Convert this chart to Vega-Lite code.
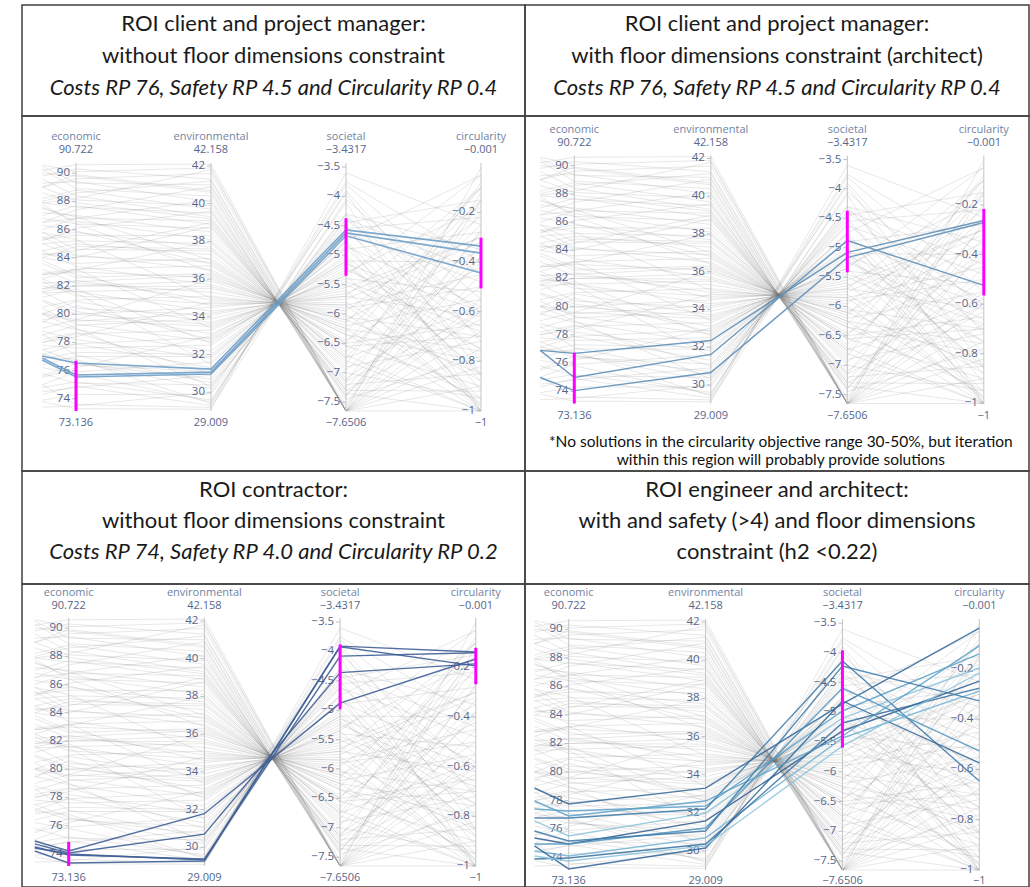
{
  "$schema": "https://vega.github.io/schema/vega-lite/v6.json",
  "padding": {"left": 21, "top": 4, "right": 0, "bottom": 0},
  "background": "white",
  "bounds": "flush",
  "spacing": 0,
  "columns": 2,
  "resolve": {"scale": {"x": "independent", "y": "independent", "color": "independent"}},
  "config": {
    "view": {"stroke": "#404040", "strokeWidth": 1.5},
    "concat": {"spacing": 0}
  },
  "datasets": {
    "dims": [
      {"dim": "left", "pos": 0.75, "min": 73.136, "max": 90.722},
      {"dim": "economic", "pos": 1, "min": 73.136, "max": 90.722},
      {"dim": "environmental", "pos": 2, "min": 29.009, "max": 42.158},
      {"dim": "societal", "pos": 3, "min": -7.6506, "max": -3.4317},
      {"dim": "circularity", "pos": 4, "min": -1, "max": -0.001}
    ],
    "ticks": [
      {"dim": "economic", "value": 74}, {"dim": "economic", "value": 76}, {"dim": "economic", "value": 78},
      {"dim": "economic", "value": 80}, {"dim": "economic", "value": 82}, {"dim": "economic", "value": 84},
      {"dim": "economic", "value": 86}, {"dim": "economic", "value": 88}, {"dim": "economic", "value": 90},
      {"dim": "environmental", "value": 30}, {"dim": "environmental", "value": 32}, {"dim": "environmental", "value": 34},
      {"dim": "environmental", "value": 36}, {"dim": "environmental", "value": 38}, {"dim": "environmental", "value": 40},
      {"dim": "environmental", "value": 42},
      {"dim": "societal", "value": -3.5}, {"dim": "societal", "value": -4}, {"dim": "societal", "value": -4.5},
      {"dim": "societal", "value": -5}, {"dim": "societal", "value": -5.5}, {"dim": "societal", "value": -6},
      {"dim": "societal", "value": -6.5}, {"dim": "societal", "value": -7}, {"dim": "societal", "value": -7.5},
      {"dim": "circularity", "value": -0.2}, {"dim": "circularity", "value": -0.4}, {"dim": "circularity", "value": -0.6},
      {"dim": "circularity", "value": -0.8}, {"dim": "circularity", "value": -1}
    ],
    "headers": [
      {"panel": "p1", "line": 1, "text": "ROI client and project manager:"},
      {"panel": "p1", "line": 2, "text": "without floor dimensions constraint"},
      {"panel": "p1", "line": 3, "text": "Costs RP 76, Safety RP 4.5 and Circularity RP 0.4"},
      {"panel": "p2", "line": 1, "text": "ROI client and project manager:"},
      {"panel": "p2", "line": 2, "text": "with floor dimensions constraint (architect)"},
      {"panel": "p2", "line": 3, "text": "Costs RP 76, Safety RP 4.5 and Circularity RP 0.4"},
      {"panel": "p3", "line": 1, "text": "ROI contractor:"},
      {"panel": "p3", "line": 2, "text": "without floor dimensions constraint"},
      {"panel": "p3", "line": 3, "text": "Costs RP 74, Safety RP 4.0 and Circularity RP 0.2"},
      {"panel": "p4", "line": 1, "text": "ROI engineer and architect:"},
      {"panel": "p4", "line": 2, "text": "with and safety (>4) and floor dimensions"},
      {"panel": "p4", "line": 3, "text": "constraint (h2 <0.22)"}
    ],
    "brush": [
      {"panel": "p1", "dim": "economic", "lo": 73.136, "hi": 76.7},
      {"panel": "p1", "dim": "societal", "lo": -5.35, "hi": -4.37},
      {"panel": "p1", "dim": "circularity", "lo": -0.506, "hi": -0.302},
      {"panel": "p2", "dim": "economic", "lo": 73.136, "hi": 76.74},
      {"panel": "p2", "dim": "societal", "lo": -5.42, "hi": -4.37},
      {"panel": "p2", "dim": "circularity", "lo": -0.565, "hi": -0.216},
      {"panel": "p3", "dim": "economic", "lo": 73.136, "hi": 74.84},
      {"panel": "p3", "dim": "societal", "lo": -4.985, "hi": -3.88},
      {"panel": "p3", "dim": "circularity", "lo": -0.268, "hi": -0.121},
      {"panel": "p4", "dim": "societal", "lo": -5.595, "hi": -3.958}
    ],
    "sel": [
      {"panel": "p1", "id": "p1a", "left": 77.04, "economic": 76.54, "environmental": 31.23, "societal": -4.57, "circularity": -0.336},
      {"panel": "p1", "id": "p1b", "left": 76.9, "economic": 75.69, "environmental": 31.07, "societal": -4.62, "circularity": -0.364},
      {"panel": "p1", "id": "p1c", "left": 76.75, "economic": 75.55, "environmental": 30.97, "societal": -4.67, "circularity": -0.444},
      {"panel": "p2", "id": "p2a", "left": 76.9, "economic": 76.69, "environmental": 32.35, "societal": -5.08, "circularity": -0.263},
      {"panel": "p2", "id": "p2b", "left": 76.9, "economic": 74.98, "environmental": 31.61, "societal": -4.88, "circularity": -0.524},
      {"panel": "p2", "id": "p2c", "left": 74.98, "economic": 74.05, "environmental": 30.65, "societal": -5.17, "circularity": -0.271},
      {"panel": "p3", "id": "p3a", "left": 74.91, "economic": 74.2, "environmental": 31.78, "societal": -4.88, "circularity": -0.166},
      {"panel": "p3", "id": "p3b", "left": 74.7, "economic": 74.06, "environmental": 30.7, "societal": -4.36, "circularity": -0.186},
      {"panel": "p3", "id": "p3c", "left": 74.48, "economic": 73.92, "environmental": 29.38, "societal": -4.08, "circularity": -0.141},
      {"panel": "p3", "id": "p3d", "left": 74.2, "economic": 73.35, "environmental": 29.27, "societal": -3.92, "circularity": -0.194},
      {"panel": "p3", "id": "p3e", "left": 74.41, "economic": 73.99, "environmental": 29.33, "societal": -3.91, "circularity": -0.138},
      {"panel": "p4", "id": "p4a", "left": 78.88, "economic": 77.76, "environmental": 33.3, "societal": -4.86, "circularity": -0.037},
      {"panel": "p4", "id": "p4b", "left": 77.41, "economic": 77.27, "environmental": 32.36, "societal": -4.978, "circularity": -0.14},
      {"panel": "p4", "id": "p4c", "left": 76.78, "economic": 76.78, "environmental": 32.2, "societal": -4.137, "circularity": -0.646},
      {"panel": "p4", "id": "p4d", "left": 76.57, "economic": 75.52, "environmental": 31.99, "societal": -5.096, "circularity": -0.196},
      {"panel": "p4", "id": "p4e", "left": 75.38, "economic": 74.96, "environmental": 31.58, "societal": -5.314, "circularity": -0.248},
      {"panel": "p4", "id": "p4f", "left": 74.96, "economic": 74.96, "environmental": 31.21, "societal": -4.592, "circularity": -0.526},
      {"panel": "p4", "id": "p4g", "left": 74.47, "economic": 74.12, "environmental": 30.69, "societal": -5.432, "circularity": -0.288},
      {"panel": "p4", "id": "p4h", "left": 73.91, "economic": 73.98, "environmental": 30.37, "societal": -5.18, "circularity": -0.276},
      {"panel": "p4", "id": "p4i", "left": 74.82, "economic": 73.21, "environmental": 30.16, "societal": -4.81, "circularity": -0.574},
      {"panel": "p4", "id": "p4j", "left": 77.97, "economic": 76.92, "environmental": 32.62, "societal": -5.398, "circularity": -0.108},
      {"panel": "p4", "id": "p4k", "left": 75.87, "economic": 75.17, "environmental": 31.05, "societal": -4.222, "circularity": -0.327},
      {"panel": "p4", "id": "p4l", "left": 74.12, "economic": 73.77, "environmental": 30.27, "societal": -5.566, "circularity": -0.216}
    ],
    "bg": [
      {"id": 1, "left": 75.0, "economic": 73.6, "environmental": 29.2, "societal": -4.05, "circularity": -0.62},
      {"id": 2, "left": 74.8, "economic": 75.2, "environmental": 29.6, "societal": -4.1, "circularity": -1.0},
      {"id": 3, "left": 73.9, "economic": 74.3, "environmental": 29.9, "societal": -4.3, "circularity": -0.35},
      {"id": 4, "left": 77.5, "economic": 76.6, "environmental": 30.2, "societal": -4.3, "circularity": -0.8},
      {"id": 5, "left": 75.8, "economic": 75.1, "environmental": 30.4, "societal": -4.45, "circularity": -0.15},
      {"id": 6, "left": 75.6, "economic": 76.5, "environmental": 30.7, "societal": -4.5, "circularity": -0.92},
      {"id": 7, "left": 74.5, "economic": 74.8, "environmental": 30.9, "societal": -4.62, "circularity": -0.48},
      {"id": 8, "left": 77.2, "economic": 76.4, "environmental": 31.1, "societal": -4.6, "circularity": -0.7},
      {"id": 9, "left": 77.5, "economic": 77.9, "environmental": 31.3, "societal": -4.75, "circularity": -0.05},
      {"id": 10, "left": 75.0, "economic": 75.9, "environmental": 31.6, "societal": -4.78, "circularity": -1.0},
      {"id": 11, "left": 78.8, "economic": 78.2, "environmental": 31.8, "societal": -4.85, "circularity": -0.58},
      {"id": 12, "left": 76.8, "economic": 77.3, "environmental": 32.0, "societal": -4.9, "circularity": -0.28},
      {"id": 13, "left": 79.5, "economic": 78.9, "environmental": 32.2, "societal": -5.0, "circularity": -0.85},
      {"id": 14, "left": 77.8, "economic": 77.6, "environmental": 32.5, "societal": -5.1, "circularity": -0.4},
      {"id": 15, "left": 80.4, "economic": 79.3, "environmental": 32.7, "societal": -5.1, "circularity": -1.0},
      {"id": 16, "left": 77.1, "economic": 77.9, "environmental": 32.9, "societal": -5.25, "circularity": -0.66},
      {"id": 17, "left": 81.0, "economic": 80.2, "environmental": 33.1, "societal": -5.3, "circularity": -0.18},
      {"id": 18, "left": 78.0, "economic": 78.6, "environmental": 33.3, "societal": -5.35, "circularity": -0.95},
      {"id": 19, "left": 80.1, "economic": 79.6, "environmental": 33.5, "societal": -5.4, "circularity": -0.52},
      {"id": 20, "left": 80.0, "economic": 80.9, "environmental": 33.7, "societal": -5.5, "circularity": -0.75},
      {"id": 21, "left": 78.5, "economic": 79.2, "environmental": 33.9, "societal": -5.55, "circularity": -0.3},
      {"id": 22, "left": 81.6, "economic": 80.4, "environmental": 34.1, "societal": -5.6, "circularity": -1.0},
      {"id": 23, "left": 81.5, "economic": 81.6, "environmental": 34.3, "societal": -5.7, "circularity": -0.1},
      {"id": 24, "left": 79.6, "economic": 80.0, "environmental": 34.5, "societal": -5.7, "circularity": -0.62},
      {"id": 25, "left": 82.3, "economic": 81.3, "environmental": 34.7, "societal": -5.8, "circularity": -0.88},
      {"id": 26, "left": 81.8, "economic": 82.4, "environmental": 34.9, "societal": -5.85, "circularity": -0.45},
      {"id": 27, "left": 80.5, "economic": 81.0, "environmental": 35.1, "societal": -5.95, "circularity": -0.22},
      {"id": 28, "left": 83.2, "economic": 82.2, "environmental": 35.3, "societal": -6.0, "circularity": -0.97},
      {"id": 29, "left": 82.0, "economic": 81.6, "environmental": 35.5, "societal": -6.05, "circularity": -0.7},
      {"id": 30, "left": 84.5, "economic": 83.4, "environmental": 35.7, "societal": -6.1, "circularity": -0.35},
      {"id": 31, "left": 81.6, "economic": 82.0, "environmental": 35.9, "societal": -6.2, "circularity": -0.55},
      {"id": 32, "left": 82.8, "economic": 83.0, "environmental": 36.1, "societal": -6.25, "circularity": -1.0},
      {"id": 33, "left": 83.6, "economic": 82.6, "environmental": 36.3, "societal": -6.3, "circularity": -0.15},
      {"id": 34, "left": 85.5, "economic": 84.2, "environmental": 36.5, "societal": -6.35, "circularity": -0.8},
      {"id": 35, "left": 82.5, "economic": 83.2, "environmental": 36.7, "societal": -6.45, "circularity": -0.42},
      {"id": 36, "left": 85.0, "economic": 84.1, "environmental": 36.9, "societal": -6.5, "circularity": -0.65},
      {"id": 37, "left": 84.0, "economic": 83.6, "environmental": 37.1, "societal": -6.55, "circularity": -0.9},
      {"id": 38, "left": 84.5, "economic": 85.0, "environmental": 37.3, "societal": -6.65, "circularity": -0.25},
      {"id": 39, "left": 85.8, "economic": 84.6, "environmental": 37.5, "societal": -6.7, "circularity": -1.0},
      {"id": 40, "left": 85.4, "economic": 85.8, "environmental": 37.7, "societal": -6.75, "circularity": -0.58},
      {"id": 41, "left": 85.0, "economic": 85.2, "environmental": 37.9, "societal": -6.85, "circularity": -0.08},
      {"id": 42, "left": 87.6, "economic": 86.6, "environmental": 38.1, "societal": -6.9, "circularity": -0.72},
      {"id": 43, "left": 85.3, "economic": 85.6, "environmental": 38.3, "societal": -6.95, "circularity": -0.38},
      {"id": 44, "left": 87.2, "economic": 87.0, "environmental": 38.5, "societal": -7.0, "circularity": -0.95},
      {"id": 45, "left": 87.8, "economic": 86.4, "environmental": 38.7, "societal": -7.1, "circularity": -0.5},
      {"id": 46, "left": 87.0, "economic": 87.7, "environmental": 38.9, "societal": -7.15, "circularity": -0.2},
      {"id": 47, "left": 86.0, "economic": 86.8, "environmental": 39.1, "societal": -7.2, "circularity": -0.85},
      {"id": 48, "left": 89.6, "economic": 88.4, "environmental": 39.3, "societal": -7.3, "circularity": -0.63},
      {"id": 49, "left": 87.9, "economic": 87.6, "environmental": 39.5, "societal": -7.35, "circularity": -1.0},
      {"id": 50, "left": 88.2, "economic": 88.8, "environmental": 39.7, "societal": -7.4, "circularity": -0.33},
      {"id": 51, "left": 89.0, "economic": 88.1, "environmental": 39.9, "societal": -7.45, "circularity": -0.78},
      {"id": 52, "left": 89.3, "economic": 89.4, "environmental": 40.1, "societal": -7.55, "circularity": -0.12},
      {"id": 53, "left": 90.3, "economic": 88.9, "environmental": 40.4, "societal": -7.6506, "circularity": -0.55},
      {"id": 54, "left": 89.0, "economic": 89.9, "environmental": 40.7, "societal": -7.6506, "circularity": -0.9},
      {"id": 55, "left": 90.5, "economic": 89.3, "environmental": 41.0, "societal": -7.6506, "circularity": -0.27},
      {"id": 56, "left": 89.8, "economic": 90.3, "environmental": 41.3, "societal": -7.6506, "circularity": -0.68},
      {"id": 57, "left": 89.0, "economic": 89.6, "environmental": 41.6, "societal": -7.6506, "circularity": -0.45},
      {"id": 58, "left": 90.6, "economic": 90.1, "environmental": 41.9, "societal": -7.6506, "circularity": -0.02},
      {"id": 59, "left": 90.2, "economic": 90.6, "environmental": 42.1, "societal": -7.6506, "circularity": -0.82},
      {"id": 60, "left": 86.5, "economic": 87.4, "environmental": 40.9, "societal": -7.6506, "circularity": -1.0},
      {"id": 61, "left": 80.0, "economic": 79.0, "environmental": 30.3, "societal": -4.4, "circularity": -0.6},
      {"id": 62, "left": 75.5, "economic": 76.2, "environmental": 33.0, "societal": -5.2, "circularity": -0.75},
      {"id": 63, "left": 79.0, "economic": 79.6, "environmental": 36.0, "societal": -6.15, "circularity": -0.1},
      {"id": 64, "left": 82.8, "economic": 83.1, "environmental": 38.0, "societal": -6.8, "circularity": -1.0},
      {"id": 65, "left": 82.5, "economic": 81.5, "environmental": 31.5, "societal": -4.75, "circularity": -0.88},
      {"id": 66, "left": 85.8, "economic": 85.3, "environmental": 35.0, "societal": -5.9, "circularity": -0.5},
      {"id": 67, "left": 77.0, "economic": 76.8, "environmental": 29.4, "societal": -3.75, "circularity": -0.4},
      {"id": 68, "left": 73.8, "economic": 73.3, "environmental": 29.1, "societal": -3.6, "circularity": -0.25},
      {"id": 69, "left": 84.2, "economic": 84.5, "environmental": 39.0, "societal": -7.25, "circularity": -0.4},
      {"id": 70, "left": 87.5, "economic": 86.9, "environmental": 37.0, "societal": -6.55, "circularity": -0.7},
      {"id": 71, "left": 81.2, "economic": 81.8, "environmental": 32.6, "societal": -5.05, "circularity": -0.98},
      {"id": 72, "left": 80.0, "economic": 79.5, "environmental": 34.2, "societal": -5.65, "circularity": -0.3},
      {"id": 73, "left": 86.5, "economic": 86.8, "environmental": 40.2, "societal": -7.6, "circularity": -0.15},
      {"id": 74, "left": 73.4, "economic": 73.5, "environmental": 30.0, "societal": -3.95, "circularity": -0.85},
      {"id": 75, "left": 86.8, "economic": 86.4, "environmental": 36.4, "societal": -6.35, "circularity": -0.95},
      {"id": 76, "left": 82.9, "economic": 83.2, "environmental": 33.4, "societal": -5.35, "circularity": -0.05},
      {"id": 77, "left": 84.3, "economic": 84.0, "environmental": 38.8, "societal": -7.15, "circularity": -0.6},
      {"id": 78, "left": 78.2, "economic": 78.7, "environmental": 31.0, "societal": -4.55, "circularity": -0.22},
      {"id": 79, "left": 88.0, "economic": 88.6, "environmental": 41.2, "societal": -7.6506, "circularity": -0.75},
      {"id": 80, "left": 81.8, "economic": 82.0, "environmental": 35.6, "societal": -6.1, "circularity": -0.85},
      {"id": 81, "left": 76.2, "economic": 75.8, "environmental": 29.5, "societal": -3.9, "circularity": -0.72},
      {"id": 82, "left": 78.6, "economic": 77.1, "environmental": 30.5, "societal": -4.38, "circularity": -0.44},
      {"id": 83, "left": 79.4, "economic": 80.6, "environmental": 32.8, "societal": -5.15, "circularity": -0.6},
      {"id": 84, "left": 83.8, "economic": 82.8, "environmental": 34.6, "societal": -5.75, "circularity": -0.32},
      {"id": 85, "left": 86.3, "economic": 85.9, "environmental": 36.8, "societal": -6.5, "circularity": -0.1},
      {"id": 86, "left": 88.6, "economic": 87.9, "environmental": 39.2, "societal": -7.3, "circularity": -0.92},
      {"id": 87, "left": 90.0, "economic": 89.8, "environmental": 40.6, "societal": -7.6506, "circularity": -0.38},
      {"id": 88, "left": 74.3, "economic": 74.9, "environmental": 29.3, "societal": -3.8, "circularity": -0.55},
      {"id": 89, "left": 80.9, "economic": 80.0, "environmental": 33.6, "societal": -5.45, "circularity": -0.68},
      {"id": 90, "left": 84.0, "economic": 84.8, "environmental": 37.6, "societal": -6.75, "circularity": -0.16},
      {"id": 91, "left": 76.4, "economic": 77.0, "environmental": 31.9, "societal": -4.88, "circularity": -0.86},
      {"id": 92, "left": 82.2, "economic": 82.3, "environmental": 36.2, "societal": -6.25, "circularity": -0.76},
      {"id": 93, "left": 87.9, "economic": 88.2, "environmental": 41.8, "societal": -7.6506, "circularity": -0.6},
      {"id": 94, "left": 78.0, "economic": 78.4, "environmental": 34.8, "societal": -5.85, "circularity": -0.98},
      {"id": 95, "left": 85.2, "economic": 86.1, "environmental": 39.6, "societal": -7.4, "circularity": -0.28}
    ]
  },
  "concat": [
    {
      "width": 503, "height": 111,
      "data": {"name": "headers"},
      "transform": [{"filter": "datum.panel === 'p1'"}],
      "encoding": {
        "x": {"datum": 0.5, "type": "quantitative", "scale": {"domain": [0, 1]}, "axis": null},
        "y": {"field": "line", "type": "quantitative", "scale": {"domain": [0.397, 3.866], "reverse": true, "nice": false, "zero": false}, "axis": null},
        "text": {"field": "text", "type": "nominal"}
      },
      "layer": [
        {"transform": [{"filter": "datum.line < 3"}], "mark": {"type": "text", "font": "Lato", "fontSize": 22, "baseline": "middle", "fill": "#1a1a1a"}},
        {"transform": [{"filter": "datum.line === 3"}], "mark": {"type": "text", "font": "Lato", "fontSize": 22, "fontStyle": "italic", "baseline": "middle", "fill": "#1a1a1a"}}
      ]
    },
    {
      "width": 504, "height": 111,
      "data": {"name": "headers"},
      "transform": [{"filter": "datum.panel === 'p2'"}],
      "encoding": {
        "x": {"datum": 0.5, "type": "quantitative", "scale": {"domain": [0, 1]}, "axis": null},
        "y": {"field": "line", "type": "quantitative", "scale": {"domain": [0.397, 3.866], "reverse": true, "nice": false, "zero": false}, "axis": null},
        "text": {"field": "text", "type": "nominal"}
      },
      "layer": [
        {"transform": [{"filter": "datum.line < 3"}], "mark": {"type": "text", "font": "Lato", "fontSize": 22, "baseline": "middle", "fill": "#1a1a1a"}},
        {"transform": [{"filter": "datum.line === 3"}], "mark": {"type": "text", "font": "Lato", "fontSize": 22, "fontStyle": "italic", "baseline": "middle", "fill": "#1a1a1a"}}
      ]
    },
    {
      "width": 503, "height": 355,
      "encoding": {
        "x": {"field": "pos", "type": "quantitative", "scale": {"domain": [0.6, 4.326], "nice": false, "zero": false}, "axis": null}
      },
      "layer": [
        {"data": {"name": "bg"}, "transform": [{"fold": ["left", "economic", "environmental", "societal", "circularity"], "as": ["dim", "value"]}, {"lookup": "dim", "from": {"data": {"name": "dims"}, "key": "dim", "fields": ["pos", "min", "max"]}}, {"calculate": "(datum.value - datum.min) / (datum.max - datum.min)", "as": "n"}],
         "mark": {"type": "line", "stroke": "#777777", "strokeWidth": 0.8, "opacity": 0.22},
         "encoding": {"y": {"field": "n", "type": "quantitative", "scale": {"domain": [-0.242, 1.1895], "nice": false, "zero": false}, "axis": null}, "detail": {"field": "id", "type": "nominal"}, "order": {"field": "pos", "type": "quantitative"}}},
        {"data": {"name": "dims"}, "transform": [{"filter": "datum.dim !== 'left'"}], "mark": {"type": "rule", "stroke": "#c4c4c4", "strokeWidth": 1},
         "encoding": {"y": {"datum": 0, "type": "quantitative", "scale": {"domain": [-0.242, 1.1895], "nice": false, "zero": false}, "axis": null}, "y2": {"datum": 1}}},
        {"data": {"name": "ticks"}, "transform": [{"lookup": "dim", "from": {"data": {"name": "dims"}, "key": "dim", "fields": ["pos", "min", "max"]}}, {"calculate": "(datum.value - datum.min) / (datum.max - datum.min)", "as": "n"}],
         "mark": {"type": "rule", "stroke": "#b8c0d0", "strokeWidth": 1, "x2Offset": -4},
         "encoding": {"y": {"field": "n", "type": "quantitative", "scale": {"domain": [-0.242, 1.1895], "nice": false, "zero": false}, "axis": null}, "x2": {"field": "pos"}}},
        {"data": {"name": "ticks"}, "transform": [{"lookup": "dim", "from": {"data": {"name": "dims"}, "key": "dim", "fields": ["pos", "min", "max"]}}, {"calculate": "(datum.value - datum.min) / (datum.max - datum.min)", "as": "n"}],
         "mark": {"type": "text", "align": "right", "baseline": "middle", "dx": -6, "font": "Open Sans", "fontSize": 11.5, "fill": "#56668a"},
         "encoding": {"y": {"field": "n", "type": "quantitative", "scale": {"domain": [-0.242, 1.1895], "nice": false, "zero": false}, "axis": null}, "text": {"field": "value", "type": "quantitative", "format": "~g"}}},
        {"data": {"name": "sel"}, "transform": [{"filter": "datum.panel === 'p1'"}, {"fold": ["left", "economic", "environmental", "societal", "circularity"], "as": ["dim", "value"]}, {"lookup": "dim", "from": {"data": {"name": "dims"}, "key": "dim", "fields": ["pos", "min", "max"]}}, {"calculate": "(datum.value - datum.min) / (datum.max - datum.min)", "as": "n"}],
         "mark": {"type": "line", "stroke": "#6f9fc8", "strokeWidth": 1.6, "opacity": 0.9},
         "encoding": {"y": {"field": "n", "type": "quantitative", "scale": {"domain": [-0.242, 1.1895], "nice": false, "zero": false}, "axis": null}, "detail": {"field": "id", "type": "nominal"}, "order": {"field": "pos", "type": "quantitative"}}},
        {"data": {"name": "brush"}, "transform": [{"filter": "datum.panel === 'p1'"}, {"lookup": "dim", "from": {"data": {"name": "dims"}, "key": "dim", "fields": ["pos", "min", "max"]}}, {"calculate": "(datum.lo - datum.min) / (datum.max - datum.min)", "as": "n"}, {"calculate": "(datum.hi - datum.min) / (datum.max - datum.min)", "as": "n2"}],
         "mark": {"type": "rule", "stroke": "#ff00ff", "strokeWidth": 3},
         "encoding": {"y": {"field": "n", "type": "quantitative", "scale": {"domain": [-0.242, 1.1895], "nice": false, "zero": false}, "axis": null}, "y2": {"field": "n2"}}},
        {"data": {"name": "dims"}, "transform": [{"filter": "datum.dim !== 'left'"}],
         "mark": {"type": "text", "baseline": "middle", "dy": -25.5, "font": "Open Sans", "fontSize": 11, "fill": "#7383a3"},
         "encoding": {"y": {"datum": 1, "type": "quantitative", "scale": {"domain": [-0.242, 1.1895], "nice": false, "zero": false}, "axis": null}, "text": {"field": "dim", "type": "nominal"}}},
        {"data": {"name": "dims"}, "transform": [{"filter": "datum.dim !== 'left'"}],
         "mark": {"type": "text", "baseline": "middle", "dy": -12.5, "font": "Open Sans", "fontSize": 11, "fill": "#56668a"},
         "encoding": {"y": {"datum": 1, "type": "quantitative", "scale": {"domain": [-0.242, 1.1895], "nice": false, "zero": false}, "axis": null}, "text": {"field": "max", "type": "quantitative", "format": "~g"}}},
        {"data": {"name": "dims"}, "transform": [{"filter": "datum.dim !== 'left'"}],
         "mark": {"type": "text", "baseline": "middle", "dy": 12.5, "font": "Open Sans", "fontSize": 11, "fill": "#56668a"},
         "encoding": {"y": {"datum": 0, "type": "quantitative", "scale": {"domain": [-0.242, 1.1895], "nice": false, "zero": false}, "axis": null}, "text": {"field": "min", "type": "quantitative", "format": "~g"}}}
      ]
    },
    {
      "width": 504, "height": 355,
      "encoding": {
        "x": {"field": "pos", "type": "quantitative", "scale": {"domain": [0.6388, 4.3311], "nice": false, "zero": false}, "axis": null}
      },
      "layer": [
        {"data": {"name": "bg"}, "transform": [{"fold": ["left", "economic", "environmental", "societal", "circularity"], "as": ["dim", "value"]}, {"lookup": "dim", "from": {"data": {"name": "dims"}, "key": "dim", "fields": ["pos", "min", "max"]}}, {"calculate": "(datum.value - datum.min) / (datum.max - datum.min)", "as": "n"}],
         "mark": {"type": "line", "stroke": "#777777", "strokeWidth": 0.8, "opacity": 0.22},
         "encoding": {"y": {"field": "n", "type": "quantitative", "scale": {"domain": [-0.2722, 1.1593], "nice": false, "zero": false}, "axis": null}, "detail": {"field": "id", "type": "nominal"}, "order": {"field": "pos", "type": "quantitative"}}},
        {"data": {"name": "dims"}, "transform": [{"filter": "datum.dim !== 'left'"}], "mark": {"type": "rule", "stroke": "#c4c4c4", "strokeWidth": 1},
         "encoding": {"y": {"datum": 0, "type": "quantitative", "scale": {"domain": [-0.2722, 1.1593], "nice": false, "zero": false}, "axis": null}, "y2": {"datum": 1}}},
        {"data": {"name": "ticks"}, "transform": [{"lookup": "dim", "from": {"data": {"name": "dims"}, "key": "dim", "fields": ["pos", "min", "max"]}}, {"calculate": "(datum.value - datum.min) / (datum.max - datum.min)", "as": "n"}],
         "mark": {"type": "rule", "stroke": "#b8c0d0", "strokeWidth": 1, "x2Offset": -4},
         "encoding": {"y": {"field": "n", "type": "quantitative", "scale": {"domain": [-0.2722, 1.1593], "nice": false, "zero": false}, "axis": null}, "x2": {"field": "pos"}}},
        {"data": {"name": "ticks"}, "transform": [{"lookup": "dim", "from": {"data": {"name": "dims"}, "key": "dim", "fields": ["pos", "min", "max"]}}, {"calculate": "(datum.value - datum.min) / (datum.max - datum.min)", "as": "n"}],
         "mark": {"type": "text", "align": "right", "baseline": "middle", "dx": -6, "font": "Open Sans", "fontSize": 11.5, "fill": "#56668a"},
         "encoding": {"y": {"field": "n", "type": "quantitative", "scale": {"domain": [-0.2722, 1.1593], "nice": false, "zero": false}, "axis": null}, "text": {"field": "value", "type": "quantitative", "format": "~g"}}},
        {"data": {"name": "sel"}, "transform": [{"filter": "datum.panel === 'p2'"}, {"fold": ["left", "economic", "environmental", "societal", "circularity"], "as": ["dim", "value"]}, {"lookup": "dim", "from": {"data": {"name": "dims"}, "key": "dim", "fields": ["pos", "min", "max"]}}, {"calculate": "(datum.value - datum.min) / (datum.max - datum.min)", "as": "n"}],
         "mark": {"type": "line", "stroke": "#5e8fb8", "strokeWidth": 1.4, "opacity": 0.9},
         "encoding": {"y": {"field": "n", "type": "quantitative", "scale": {"domain": [-0.2722, 1.1593], "nice": false, "zero": false}, "axis": null}, "detail": {"field": "id", "type": "nominal"}, "order": {"field": "pos", "type": "quantitative"}}},
        {"data": {"name": "brush"}, "transform": [{"filter": "datum.panel === 'p2'"}, {"lookup": "dim", "from": {"data": {"name": "dims"}, "key": "dim", "fields": ["pos", "min", "max"]}}, {"calculate": "(datum.lo - datum.min) / (datum.max - datum.min)", "as": "n"}, {"calculate": "(datum.hi - datum.min) / (datum.max - datum.min)", "as": "n2"}],
         "mark": {"type": "rule", "stroke": "#ff00ff", "strokeWidth": 3},
         "encoding": {"y": {"field": "n", "type": "quantitative", "scale": {"domain": [-0.2722, 1.1593], "nice": false, "zero": false}, "axis": null}, "y2": {"field": "n2"}}},
        {"data": {"name": "dims"}, "transform": [{"filter": "datum.dim !== 'left'"}],
         "mark": {"type": "text", "baseline": "middle", "dy": -25.5, "font": "Open Sans", "fontSize": 11, "fill": "#7383a3"},
         "encoding": {"y": {"datum": 1, "type": "quantitative", "scale": {"domain": [-0.2722, 1.1593], "nice": false, "zero": false}, "axis": null}, "text": {"field": "dim", "type": "nominal"}}},
        {"data": {"name": "dims"}, "transform": [{"filter": "datum.dim !== 'left'"}],
         "mark": {"type": "text", "baseline": "middle", "dy": -12.5, "font": "Open Sans", "fontSize": 11, "fill": "#56668a"},
         "encoding": {"y": {"datum": 1, "type": "quantitative", "scale": {"domain": [-0.2722, 1.1593], "nice": false, "zero": false}, "axis": null}, "text": {"field": "max", "type": "quantitative", "format": "~g"}}},
        {"data": {"name": "dims"}, "transform": [{"filter": "datum.dim !== 'left'"}],
         "mark": {"type": "text", "baseline": "middle", "dy": 12.5, "font": "Open Sans", "fontSize": 11, "fill": "#56668a"},
         "encoding": {"y": {"datum": 0, "type": "quantitative", "scale": {"domain": [-0.2722, 1.1593], "nice": false, "zero": false}, "axis": null}, "text": {"field": "min", "type": "quantitative", "format": "~g"}}},
        {"data": {"name": "dims"}, "transform": [{"filter": "datum.dim === 'environmental'"}],
         "mark": {"type": "text", "align": "center", "baseline": "middle", "dx": 70, "dy": 38.2, "font": "Lato", "fontSize": 15.5, "lineHeight": 18.6, "fill": "#111111",
                  "text": ["*No solutions in the circularity objective range 30-50%, but iteration", "within this region will probably provide solutions"]},
         "encoding": {"y": {"datum": 0, "type": "quantitative", "scale": {"domain": [-0.2722, 1.1593], "nice": false, "zero": false}, "axis": null}}}
      ]
    },
    {
      "width": 503, "height": 113,
      "data": {"name": "headers"},
      "transform": [{"filter": "datum.panel === 'p3'"}],
      "encoding": {
        "x": {"datum": 0.5, "type": "quantitative", "scale": {"domain": [0, 1]}, "axis": null},
        "y": {"field": "line", "type": "quantitative", "scale": {"domain": [0.391, 4.013], "reverse": true, "nice": false, "zero": false}, "axis": null},
        "text": {"field": "text", "type": "nominal"}
      },
      "layer": [
        {"transform": [{"filter": "datum.line < 3"}], "mark": {"type": "text", "font": "Lato", "fontSize": 22, "baseline": "middle", "fill": "#1a1a1a"}},
        {"transform": [{"filter": "datum.line === 3"}], "mark": {"type": "text", "font": "Lato", "fontSize": 22, "fontStyle": "italic", "baseline": "middle", "fill": "#1a1a1a"}}
      ]
    },
    {
      "width": 504, "height": 113,
      "data": {"name": "headers"},
      "transform": [{"filter": "datum.panel === 'p4'"}],
      "encoding": {
        "x": {"datum": 0.5, "type": "quantitative", "scale": {"domain": [0, 1]}, "axis": null},
        "y": {"field": "line", "type": "quantitative", "scale": {"domain": [0.391, 4.013], "reverse": true, "nice": false, "zero": false}, "axis": null},
        "text": {"field": "text", "type": "nominal"}
      },
      "mark": {"type": "text", "font": "Lato", "fontSize": 22, "baseline": "middle", "fill": "#1a1a1a"}
    },
    {
      "width": 503, "height": 303,
      "encoding": {
        "x": {"field": "pos", "type": "quantitative", "scale": {"domain": [0.6559, 4.3626], "nice": false, "zero": false}, "axis": null}
      },
      "layer": [
        {"data": {"name": "bg"}, "transform": [{"fold": ["left", "economic", "environmental", "societal", "circularity"], "as": ["dim", "value"]}, {"lookup": "dim", "from": {"data": {"name": "dims"}, "key": "dim", "fields": ["pos", "min", "max"]}}, {"calculate": "(datum.value - datum.min) / (datum.max - datum.min)", "as": "n"}],
         "mark": {"type": "line", "stroke": "#777777", "strokeWidth": 0.8, "opacity": 0.22},
         "encoding": {"y": {"field": "n", "type": "quantitative", "scale": {"domain": [-0.0847, 1.1371], "nice": false, "zero": false}, "axis": null}, "detail": {"field": "id", "type": "nominal"}, "order": {"field": "pos", "type": "quantitative"}}},
        {"data": {"name": "dims"}, "transform": [{"filter": "datum.dim !== 'left'"}], "mark": {"type": "rule", "stroke": "#c4c4c4", "strokeWidth": 1},
         "encoding": {"y": {"datum": 0, "type": "quantitative", "scale": {"domain": [-0.0847, 1.1371], "nice": false, "zero": false}, "axis": null}, "y2": {"datum": 1}}},
        {"data": {"name": "ticks"}, "transform": [{"lookup": "dim", "from": {"data": {"name": "dims"}, "key": "dim", "fields": ["pos", "min", "max"]}}, {"calculate": "(datum.value - datum.min) / (datum.max - datum.min)", "as": "n"}],
         "mark": {"type": "rule", "stroke": "#b8c0d0", "strokeWidth": 1, "x2Offset": -4},
         "encoding": {"y": {"field": "n", "type": "quantitative", "scale": {"domain": [-0.0847, 1.1371], "nice": false, "zero": false}, "axis": null}, "x2": {"field": "pos"}}},
        {"data": {"name": "ticks"}, "transform": [{"lookup": "dim", "from": {"data": {"name": "dims"}, "key": "dim", "fields": ["pos", "min", "max"]}}, {"calculate": "(datum.value - datum.min) / (datum.max - datum.min)", "as": "n"}],
         "mark": {"type": "text", "align": "right", "baseline": "middle", "dx": -6, "font": "Open Sans", "fontSize": 11.5, "fill": "#56668a"},
         "encoding": {"y": {"field": "n", "type": "quantitative", "scale": {"domain": [-0.0847, 1.1371], "nice": false, "zero": false}, "axis": null}, "text": {"field": "value", "type": "quantitative", "format": "~g"}}},
        {"data": {"name": "sel"}, "transform": [{"filter": "datum.panel === 'p3'"}, {"fold": ["left", "economic", "environmental", "societal", "circularity"], "as": ["dim", "value"]}, {"lookup": "dim", "from": {"data": {"name": "dims"}, "key": "dim", "fields": ["pos", "min", "max"]}}, {"calculate": "(datum.value - datum.min) / (datum.max - datum.min)", "as": "n"}],
         "mark": {"type": "line", "stroke": "#3f5f96", "strokeWidth": 1.4, "opacity": 0.9},
         "encoding": {"y": {"field": "n", "type": "quantitative", "scale": {"domain": [-0.0847, 1.1371], "nice": false, "zero": false}, "axis": null}, "detail": {"field": "id", "type": "nominal"}, "order": {"field": "pos", "type": "quantitative"}}},
        {"data": {"name": "brush"}, "transform": [{"filter": "datum.panel === 'p3'"}, {"lookup": "dim", "from": {"data": {"name": "dims"}, "key": "dim", "fields": ["pos", "min", "max"]}}, {"calculate": "(datum.lo - datum.min) / (datum.max - datum.min)", "as": "n"}, {"calculate": "(datum.hi - datum.min) / (datum.max - datum.min)", "as": "n2"}],
         "mark": {"type": "rule", "stroke": "#ff00ff", "strokeWidth": 3},
         "encoding": {"y": {"field": "n", "type": "quantitative", "scale": {"domain": [-0.0847, 1.1371], "nice": false, "zero": false}, "axis": null}, "y2": {"field": "n2"}}},
        {"data": {"name": "dims"}, "transform": [{"filter": "datum.dim !== 'left'"}],
         "mark": {"type": "text", "baseline": "middle", "dy": -25.5, "font": "Open Sans", "fontSize": 11, "fill": "#7383a3"},
         "encoding": {"y": {"datum": 1, "type": "quantitative", "scale": {"domain": [-0.0847, 1.1371], "nice": false, "zero": false}, "axis": null}, "text": {"field": "dim", "type": "nominal"}}},
        {"data": {"name": "dims"}, "transform": [{"filter": "datum.dim !== 'left'"}],
         "mark": {"type": "text", "baseline": "middle", "dy": -12.5, "font": "Open Sans", "fontSize": 11, "fill": "#56668a"},
         "encoding": {"y": {"datum": 1, "type": "quantitative", "scale": {"domain": [-0.0847, 1.1371], "nice": false, "zero": false}, "axis": null}, "text": {"field": "max", "type": "quantitative", "format": "~g"}}},
        {"data": {"name": "dims"}, "transform": [{"filter": "datum.dim !== 'left'"}],
         "mark": {"type": "text", "baseline": "middle", "dy": 12.5, "font": "Open Sans", "fontSize": 11, "fill": "#56668a"},
         "encoding": {"y": {"datum": 0, "type": "quantitative", "scale": {"domain": [-0.0847, 1.1371], "nice": false, "zero": false}, "axis": null}, "text": {"field": "min", "type": "quantitative", "format": "~g"}}}
      ]
    },
    {
      "width": 504, "height": 303,
      "encoding": {
        "x": {"field": "pos", "type": "quantitative", "scale": {"domain": [0.6807, 4.363], "nice": false, "zero": false}, "axis": null}
      },
      "layer": [
        {"data": {"name": "bg"}, "transform": [{"fold": ["left", "economic", "environmental", "societal", "circularity"], "as": ["dim", "value"]}, {"lookup": "dim", "from": {"data": {"name": "dims"}, "key": "dim", "fields": ["pos", "min", "max"]}}, {"calculate": "(datum.value - datum.min) / (datum.max - datum.min)", "as": "n"}],
         "mark": {"type": "line", "stroke": "#777777", "strokeWidth": 0.8, "opacity": 0.22},
         "encoding": {"y": {"field": "n", "type": "quantitative", "scale": {"domain": [-0.0678, 1.1394], "nice": false, "zero": false}, "axis": null}, "detail": {"field": "id", "type": "nominal"}, "order": {"field": "pos", "type": "quantitative"}}},
        {"data": {"name": "dims"}, "transform": [{"filter": "datum.dim !== 'left'"}], "mark": {"type": "rule", "stroke": "#c4c4c4", "strokeWidth": 1},
         "encoding": {"y": {"datum": 0, "type": "quantitative", "scale": {"domain": [-0.0678, 1.1394], "nice": false, "zero": false}, "axis": null}, "y2": {"datum": 1}}},
        {"data": {"name": "ticks"}, "transform": [{"lookup": "dim", "from": {"data": {"name": "dims"}, "key": "dim", "fields": ["pos", "min", "max"]}}, {"calculate": "(datum.value - datum.min) / (datum.max - datum.min)", "as": "n"}],
         "mark": {"type": "rule", "stroke": "#b8c0d0", "strokeWidth": 1, "x2Offset": -4},
         "encoding": {"y": {"field": "n", "type": "quantitative", "scale": {"domain": [-0.0678, 1.1394], "nice": false, "zero": false}, "axis": null}, "x2": {"field": "pos"}}},
        {"data": {"name": "ticks"}, "transform": [{"lookup": "dim", "from": {"data": {"name": "dims"}, "key": "dim", "fields": ["pos", "min", "max"]}}, {"calculate": "(datum.value - datum.min) / (datum.max - datum.min)", "as": "n"}],
         "mark": {"type": "text", "align": "right", "baseline": "middle", "dx": -6, "font": "Open Sans", "fontSize": 11.5, "fill": "#56668a"},
         "encoding": {"y": {"field": "n", "type": "quantitative", "scale": {"domain": [-0.0678, 1.1394], "nice": false, "zero": false}, "axis": null}, "text": {"field": "value", "type": "quantitative", "format": "~g"}}},
        {"data": {"name": "sel"}, "transform": [{"filter": "datum.panel === 'p4'"}, {"fold": ["left", "economic", "environmental", "societal", "circularity"], "as": ["dim", "value"]}, {"lookup": "dim", "from": {"data": {"name": "dims"}, "key": "dim", "fields": ["pos", "min", "max"]}}, {"calculate": "(datum.value - datum.min) / (datum.max - datum.min)", "as": "n"}],
         "mark": {"type": "line", "strokeWidth": 1.4, "opacity": 0.85},
         "encoding": {"y": {"field": "n", "type": "quantitative", "scale": {"domain": [-0.0678, 1.1394], "nice": false, "zero": false}, "axis": null}, "detail": {"field": "id", "type": "nominal"}, "order": {"field": "pos", "type": "quantitative"},
                      "color": {"field": "id", "type": "nominal", "legend": null, "scale": {"range": ["#2f6496", "#5aa0c8", "#3b78a8", "#8cc3dc", "#2b5a8c", "#4f93c0", "#6fb0d2", "#356fa0"]}}}},
        {"data": {"name": "brush"}, "transform": [{"filter": "datum.panel === 'p4'"}, {"lookup": "dim", "from": {"data": {"name": "dims"}, "key": "dim", "fields": ["pos", "min", "max"]}}, {"calculate": "(datum.lo - datum.min) / (datum.max - datum.min)", "as": "n"}, {"calculate": "(datum.hi - datum.min) / (datum.max - datum.min)", "as": "n2"}],
         "mark": {"type": "rule", "stroke": "#ff00ff", "strokeWidth": 3},
         "encoding": {"y": {"field": "n", "type": "quantitative", "scale": {"domain": [-0.0678, 1.1394], "nice": false, "zero": false}, "axis": null}, "y2": {"field": "n2"}}},
        {"data": {"name": "dims"}, "transform": [{"filter": "datum.dim !== 'left'"}],
         "mark": {"type": "text", "baseline": "middle", "dy": -25.5, "font": "Open Sans", "fontSize": 11, "fill": "#7383a3"},
         "encoding": {"y": {"datum": 1, "type": "quantitative", "scale": {"domain": [-0.0678, 1.1394], "nice": false, "zero": false}, "axis": null}, "text": {"field": "dim", "type": "nominal"}}},
        {"data": {"name": "dims"}, "transform": [{"filter": "datum.dim !== 'left'"}],
         "mark": {"type": "text", "baseline": "middle", "dy": -12.5, "font": "Open Sans", "fontSize": 11, "fill": "#56668a"},
         "encoding": {"y": {"datum": 1, "type": "quantitative", "scale": {"domain": [-0.0678, 1.1394], "nice": false, "zero": false}, "axis": null}, "text": {"field": "max", "type": "quantitative", "format": "~g"}}},
        {"data": {"name": "dims"}, "transform": [{"filter": "datum.dim !== 'left'"}],
         "mark": {"type": "text", "baseline": "middle", "dy": 11.5, "font": "Open Sans", "fontSize": 11, "fill": "#56668a"},
         "encoding": {"y": {"datum": 0, "type": "quantitative", "scale": {"domain": [-0.0678, 1.1394], "nice": false, "zero": false}, "axis": null}, "text": {"field": "min", "type": "quantitative", "format": "~g"}}}
      ]
    }
  ]
}
